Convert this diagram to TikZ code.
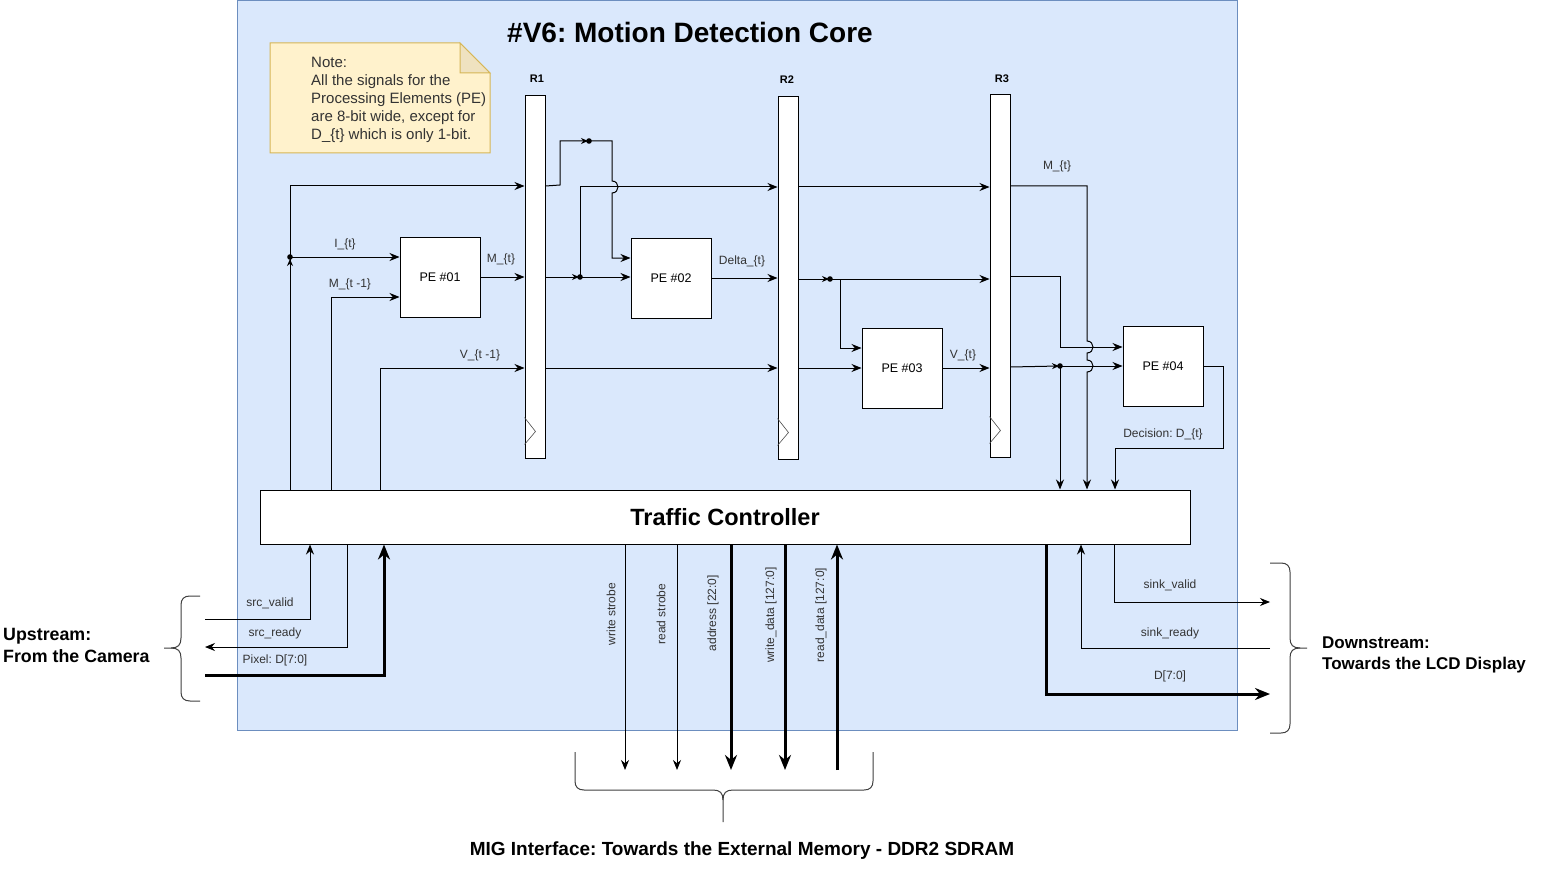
\documentclass[tikz,border=0pt]{standalone}
\usepackage{fontspec}
\setmainfont{Liberation Sans}
\usetikzlibrary{arrows.meta}
\frenchspacing
\definecolor{bgblue}{HTML}{DAE8FC}
\definecolor{bgedge}{HTML}{6C8EBF}
\definecolor{notefill}{HTML}{FFF2CC}
\definecolor{noteedge}{HTML}{D6B656}
\definecolor{notefold}{HTML}{EFE2C0}
\definecolor{lblgray}{HTML}{333333}
\tikzset{
  wire/.style={line width=1pt, draw=black},
  arr/.style={wire, -{Stealth[length=10pt,width=8pt]}},
  smallarr/.style={wire, -{Stealth[length=7pt,width=6pt]}},
  bus/.style={line width=3pt, draw=black, -{Stealth[length=15pt,width=12pt]}},
  vlbl/.style={font=\fontsize{12}{14}\selectfont, text=lblgray, inner sep=0pt},
  lbl/.style={vlbl, yshift=-1.5pt},
  reglbl/.style={font=\fontsize{11}{13}\selectfont\bfseries, inner sep=0pt},
  pe/.style={draw, fill=white, line width=1pt, minimum width=80pt, minimum height=80pt, inner sep=0pt, font=\fontsize{12.5}{15}\selectfont},
  reg/.style={draw, fill=white, line width=1pt, minimum width=20pt, minimum height=362pt, inner sep=0pt},
  clk/.style={line width=0.6pt, draw=black!70},
  brace/.style={line width=1pt, draw=black!75},
  jdot/.style={fill=black},
  hdr/.style={inner sep=0pt, align=left},
}
\begin{document}
\begin{tikzpicture}[x=1pt,y=-1pt]
\useasboundingbox (0,0) rectangle (1551,872);
\fill[white] (0,0) rectangle (1551,872);
% background container
\draw[bgedge, fill=bgblue, line width=1pt] (237.5,0.5) rectangle (1237,730);
\node[font=\fontsize{28}{34}\selectfont\bfseries, inner sep=0pt] (title) at (690,32) {\#V6: Motion Detection Core};

% note
\draw[noteedge, fill=notefill, line width=1pt] (270,43) -- (460,43) -- (490,73) -- (490,153) -- (270,153) -- cycle;
\draw[noteedge, fill=notefold, line width=1pt] (460,43) -- (460,73) -- (490,73) -- cycle;
\node[font=\fontsize{15}{18}\selectfont, text=lblgray, align=left, anchor=west, inner sep=0pt] (note) at (311,100)
  {Note:\\All the signals for the\\Processing Elements (PE)\\are 8-bit wide, except for\\D\_\{t\} which is only 1-bit.};

% registers
\node[reg] (R1) at (535,277) {};
\node[reg] (R2) at (788,278) {};
\node[reg] (R3) at (1000,276) {};
\node[reglbl] (R1l) at (537,79) {R1};
\node[reglbl] (R2l) at (787,80) {R2};
\node[reglbl] (R3l) at (1002,79) {R3};
\foreach \r in {R1,R2,R3}{
  \draw[clk] ([yshift=41pt]\r.south west) -- ([xshift=11pt,yshift=27pt]\r.south west) -- ([yshift=14pt]\r.south west);
}

% processing elements
\node[pe] (PE1) at (440,277) {PE \#01};
\node[pe] (PE2) at (671,278) {PE \#02};
\node[pe] (PE3) at (902,368) {PE \#03};
\node[pe] (PE4) at (1163,366) {PE \#04};

% traffic controller
\node[draw, fill=white, line width=1pt, minimum width=930pt, minimum height=54pt, inner sep=0pt,
      font=\fontsize{23.5}{28}\selectfont\bfseries] (TC) at (725,517) {Traffic Controller};

% junctions
\coordinate (j1) at (290,257);
\coordinate (j2) at (589,141);
\coordinate (j3) at (580,277);
\coordinate (j4) at (830,279);
\coordinate (j5) at (1060,366);

% ---- inputs to stage 1
\draw[arr] (TC.north -| 290,0) -- (290,186) -- (R1.west |- 0,186);
\draw[arr] (j1) -- (PE1.west |- j1);
\draw[smallarr] (290,269) -- (290,259);
\fill[jdot] (j1) circle (2.8);
\draw[arr] (TC.north -| 331,0) -- (331,297) -- (PE1.west |- 0,297);
\draw[arr] (TC.north -| 380,0) -- (380,368) -- (R1.west |- 0,368);
\draw[arr] (PE1.east) -- (R1.west |- PE1.east);

% ---- stage 2
\draw[smallarr] (R1.east |- 0,186) -- (560,185) -- (560,141) -- ([xshift=-1pt]j2);
\fill[jdot] (j2) circle (2.8);
\draw[arr] (j2) -- (612,141) -- (612,181) .. controls (620,181) and (620,193) .. (612,193) -- (612,258) -- (PE2.west |- 0,258);
\draw[smallarr] (R1.east |- j3) -- ([xshift=-1pt]j3);
\fill[jdot] (j3) circle (2.8);
\draw[arr] (j3) -- (PE2.west |- j3);
\draw[arr] (j3) -- (580,187) -- (R2.west |- 0,187);
\draw[arr] (PE2.east) -- (R2.west |- PE2.east);
\draw[arr] (R1.east |- 0,368) -- (R2.west |- 0,368);

% ---- stage 3
\draw[arr] (R2.east |- 0,187) -- (R3.west |- 0,187);
\draw[smallarr] (R2.east |- j4) -- ([xshift=-1pt]j4);
\fill[jdot] (j4) circle (2.8);
\draw[arr] (j4) -- (R3.west |- j4);
\draw[arr] (840,279) -- (840,348) -- (PE3.west |- 0,348);
\draw[arr] (R2.east |- 0,368) -- (PE3.west |- 0,368);
\draw[arr] (PE3.east) -- (R3.west |- PE3.east);
\node[lbl] (Vt) at (963,354) {V\_\{t\}};

% ---- stage 4
\draw[arr] (R3.east |- 0,186) -- (1087,186) -- (1087,341) .. controls (1095,341) and (1095,353) .. (1087,353)
  -- (1087,360) .. controls (1095,360) and (1095,372) .. (1087,372) -- (TC.north -| 1087,0);
\draw[arr] (R3.east |- 0,276) -- (1060,276) -- (1060,347) -- (PE4.west |- 0,347);
\draw[smallarr] (R3.east |- 0,367) -- ([xshift=-1pt]j5);
\fill[jdot] (j5) circle (2.8);
\draw[arr] (j5) -- (PE4.west |- j5);
\draw[arr] (j5) -- (TC.north -| j5);
\draw[arr] (PE4.east) -- (1223,366) -- (1223,448) -- (1115,448) -- (TC.north -| 1115,0);

% labels inside core
\node[lbl] (lIt) at (345,243) {I\_\{t\}};
\node[lbl] (lMt1) at (350,283) {M\_\{t -1\}};
\node[lbl] (lVt1) at (480,354) {V\_\{t -1\}};
\node[lbl] (lMt) at (501,258) {M\_\{t\}};
\node[lbl] (lDelta) at (742,260) {Delta\_\{t\}};
\node[lbl] (lMt2) at (1057,165) {M\_\{t\}};
\node[lbl] (lDec) at (1163,433) {Decision: D\_\{t\}};

% ---- upstream
\coordinate (srcv) at (205,619);
\coordinate (srcr) at (205,647);
\coordinate (pix) at (205,675);
\draw[arr] (srcv) -- (310,619) -- (TC.south -| 310,0);
\draw[arr] (TC.south -| 347,0) -- (347,647) -- (srcr);
\draw[bus] (pix) -- (384,675) -- (TC.south -| 384,0);
\node[lbl] (lsv) at (270,602) {src\_valid};
\node[lbl] (lsr) at (275,632) {src\_ready};
\node[lbl] (lpx) at (275,659) {Pixel: D[7:0]};
\draw[brace] (200,596) -- (190,596) .. controls (184,596) and (181,599) .. (181,605) -- (181,638)
  .. controls (181,645) and (178,648) .. (171,648) -- (164,648);
\draw[brace] (171,648) .. controls (178,648) and (181,651) .. (181,658) -- (181,692)
  .. controls (181,698) and (184,701) .. (190,701) -- (200,701);
\node[hdr, anchor=west, font=\fontsize{17.8}{22}\selectfont\bfseries] (up) at (3,645) {Upstream:\\From the Camera};

% ---- memory interface
\coordinate (mws) at (625,770);
\coordinate (mrs) at (677,770);
\coordinate (mad) at (731,770);
\coordinate (mwd) at (785,770);
\coordinate (mrd) at (837,770);
\draw[arr] (TC.south -| mws) -- (mws);
\draw[arr] (TC.south -| mrs) -- (mrs);
\draw[bus] (TC.south -| mad) -- (mad);
\draw[bus] (TC.south -| mwd) -- (mwd);
\draw[bus] (mrd) -- (TC.south -| mrd);
\node[vlbl, rotate=90] (lws) at (611,614) {write strobe};
\node[vlbl, rotate=90] (lrs) at (661,614) {read strobe};
\node[vlbl, rotate=90] (lad) at (713,613) {address [22:0]};
\node[vlbl, rotate=90] (lwd) at (771,615) {write\_data [127:0]};
\node[vlbl, rotate=90] (lrd) at (821,615) {read\_data [127:0]};
\draw[brace] (575,752) -- (575,781) .. controls (575,787) and (578,790) .. (584,790) -- (713,790)
  .. controls (720,790) and (723,793) .. (723,800) -- (723,822);
\draw[brace] (723,800) .. controls (723,793) and (726,790) .. (733,790) -- (864,790)
  .. controls (870,790) and (873,787) .. (873,781) -- (873,752);
\node[font=\fontsize{19}{23}\selectfont\bfseries, inner sep=0pt] (mig) at (742,851) {MIG Interface: Towards the External Memory - DDR2 SDRAM};

% ---- downstream
\coordinate (skv) at (1270,602);
\coordinate (skr) at (1270,648);
\coordinate (dout) at (1270,694);
\draw[arr] (TC.south -| 1114,0) -- (1114,602) -- (skv);
\draw[arr] (skr) -- (1081,648) -- (TC.south -| 1081,0);
\draw[bus] (TC.south -| 1046,0) -- (1046,694) -- (dout);
\node[lbl] (lskv) at (1170,584) {sink\_valid};
\node[lbl] (lskr) at (1170,632) {sink\_ready};
\node[lbl] (ldo) at (1170,675) {D[7:0]};
\draw[brace] (1270,563) -- (1281,563) .. controls (1287,563) and (1290,566) .. (1290,572) -- (1290,638)
  .. controls (1290,645) and (1293,648) .. (1300,648) -- (1307,648);
\draw[brace] (1300,648) .. controls (1293,648) and (1290,651) .. (1290,658) -- (1290,724)
  .. controls (1290,730) and (1287,733) .. (1281,733) -- (1270,733);
\node[hdr, anchor=west, font=\fontsize{17}{21}\selectfont\bfseries] (down) at (1322,655) {Downstream:\\Towards the LCD Display};
\end{tikzpicture}
\end{document}
